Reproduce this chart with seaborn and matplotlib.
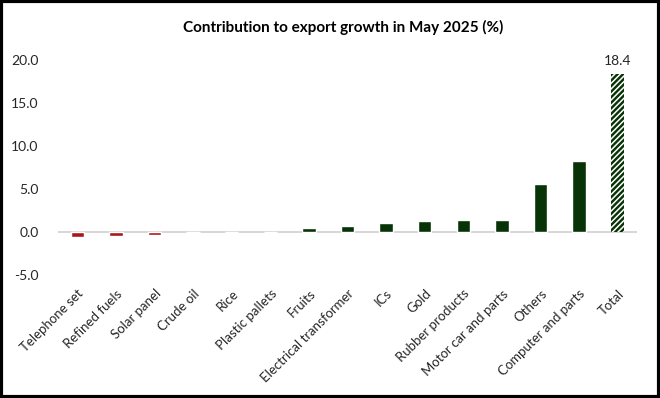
import matplotlib
matplotlib.use("Agg")
import matplotlib.pyplot as plt
import seaborn as sns
import pandas as pd

sns.set_style("white")
plt.rcParams["font.family"] = ["Lato", "DejaVu Sans"]
plt.rcParams["hatch.color"] = "white"
plt.rcParams["hatch.linewidth"] = 1.1

# data
categories = ["Telephone set", "Refined fuels", "Solar panel", "Crude oil", "Rice",
              "Plastic pallets", "Fruits", "Electrical transformer", "ICs", "Gold",
              "Rubber products", "Motor car and parts", "Others", "Computer and parts", "Total"]
values = [-0.6, -0.5, -0.4, 0.0, 0.0, 0.0, 0.5, 0.75, 1.1, 1.25, 1.45, 1.45, 5.6, 8.3, 18.4]

df = pd.DataFrame({"item": categories, "value": values})
df["sign"] = ["neg" if v < 0 else "pos" for v in values]

fig = plt.figure(figsize=(6.6, 3.98), dpi=100)
ax = fig.add_axes([0.088, 0.309, 0.877, 0.54])

sns.barplot(data=df, x="item", y="value", hue="sign",
            palette={"neg": "#C00000", "pos": "#003A00"},
            width=0.35, dodge=False, legend=False, ax=ax)

# hatched total bar
for p in ax.patches:
    if abs(p.get_height() - values[-1]) < 1e-6:
        p.set_hatch("//////")
        p.set_edgecolor("white")
        p.set_linewidth(0)
        ax.text(p.get_x() + p.get_width() / 2, p.get_height() + 0.8, f"{values[-1]:.1f}",
                ha="center", va="bottom", fontsize=10, color="#262626")

ax.set_xlim(-0.5, len(categories) - 0.5)
ax.set_ylim(-5, 20)
ax.set_yticks([-5, 0, 5, 10, 15, 20])
ax.set_yticklabels([f"{t:.1f}" for t in [-5, 0, 5, 10, 15, 20]])
ax.axhline(0, color="#D0D0D0", linewidth=1.2, zorder=0)

ax.set_xlabel("")
ax.set_ylabel("")
ax.set_xticks(range(len(categories)))
ax.set_xticklabels(categories, rotation=45, ha="right", rotation_mode="anchor")
ax.tick_params(axis="x", length=0, pad=9, labelsize=9.5, colors="#262626")
ax.tick_params(axis="y", length=0, pad=14, labelsize=10, colors="#262626")
for s in ax.spines.values():
    s.set_visible(False)

fig.text(0.52, 0.93, "Contribution to export growth in May 2025 (%)",
         ha="center", va="center", fontsize=11, fontweight="bold", color="black")

fig.patches.append(plt.Rectangle((0.002, 0.003), 0.996, 0.994, transform=fig.transFigure,
                                 fill=False, edgecolor="black", linewidth=3))

fig.savefig("out.png", dpi=100)
